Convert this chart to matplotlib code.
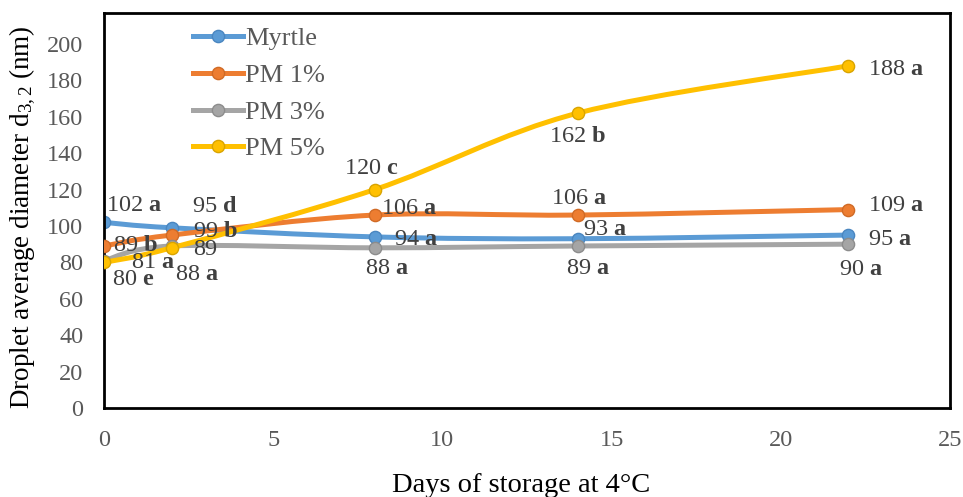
import matplotlib
matplotlib.use("Agg")
import matplotlib.pyplot as plt
from matplotlib.path import Path
from matplotlib.patches import PathPatch
from matplotlib.lines import Line2D
import numpy as np

plt.rcParams['font.family'] = ['Liberation Serif', 'DejaVu Serif']
plt.rcParams['mathtext.fontset'] = 'custom'
plt.rcParams['mathtext.rm'] = 'Liberation Serif'
plt.rcParams['mathtext.it'] = 'Liberation Serif:italic'
plt.rcParams['mathtext.bf'] = 'Liberation Serif:bold'

# ---- data ----
days = [0, 2, 8, 14, 22]
series_names = ["Myrtle", "PM 1%", "PM 3%", "PM 5%"]
myrtle = [102, 99, 94, 93, 95]
pm1 = [89, 95, 106, 106, 109]
pm3 = [81, 89, 88, 89, 90]
pm5 = [80, 88, 120, 162, 188]
myrtle_letters = ["a", "b", "a", "a", "a"]
pm1_letters = ["b", "d", "a", "a", "a"]
pm3_letters = ["a", "", "a", "a", "a"]
pm5_letters = ["e", "a", "c", "b", "a"]
x_ticks = [0, 5, 10, 15, 20, 25]
y_ticks = list(range(0, 201, 20))

values = [myrtle, pm1, pm3, pm5]
letters = [myrtle_letters, pm1_letters, pm3_letters, pm5_letters]

# ---- styles ----
colors = ['#5B9BD5', '#ED7D31', '#A5A5A5', '#FFC000']
edges = ['#4A86C0', '#D06A25', '#8C8C8C', '#D9A400']
# label offsets in pixels (dx to left edge, dy to vertical centre)
offsets = [
    [(2, 17), (21, -4), (19, -3), (5, 9), (20, -4)],        # Myrtle
    [(9, 0), (20, 29), (6, 7), (-27, 17), (20, 4)],         # PM 1%
    [(27, -2), (21, -4), (-10, -21), (-12, -23), (-9, -25)],  # PM 3%
    [(8, -17), (3, -27), (-31, 21), (-29, -23), (20, -4)],  # PM 5%
]
text_color = '#404040'
tick_color = '#595959'
fs = 17.5
fs_leg = 19
fs_title = 20.5
fs_ytitle = 19.5

W, H = 963, 497
fig = plt.figure(figsize=(W / 100, H / 100), dpi=100)
ax = fig.add_axes([104 / W, (H - 408) / H, (950 - 104) / W, (408 - 13) / H])
ax.set_xlim(0, 25)
ax.set_ylim(0, 217)


def smooth_path(x, y):
    pts = np.column_stack([x, y]).astype(float)
    n = len(pts)
    verts = [pts[0]]
    codes = [Path.MOVETO]
    for i in range(n - 1):
        p0 = pts[i - 1] if i > 0 else pts[i]
        p1 = pts[i]
        p2 = pts[i + 1]
        p3 = pts[i + 2] if i + 2 < n else pts[i + 1]
        c1 = p1 + (p2 - p0) / 6.0
        c2 = p2 - (p3 - p1) / 6.0
        verts += [c1, c2, p2]
        codes += [Path.CURVE4] * 3
    return Path(verts, codes)


for k, (vals, c, ec) in enumerate(zip(values, colors, edges)):
    patch = PathPatch(smooth_path(days, vals), fill=False, edgecolor=c,
                      lw=3.6, capstyle='round', joinstyle='round', zorder=2 + k)
    ax.add_patch(patch)
    ax.plot(days, vals, linestyle='none', marker='o', ms=8.8, mfc=c, mec=ec,
            mew=1.0, zorder=2 + k)

for k in range(4):
    for i, d in enumerate(days):
        v = values[k][i]
        lt = letters[k][i]
        s = f"{v} $\\mathbf{{{lt}}}$" if lt else f"{v}"
        dx, dy = offsets[k][i]
        ax.annotate(s, xy=(d, v), xytext=(dx, dy), textcoords='offset pixels',
                    ha='left', va='center', fontsize=fs, color=text_color,
                    zorder=10, annotation_clip=False)

ax.set_xticks(x_ticks)
ax.set_yticks(y_ticks)
ax.tick_params(axis='both', length=0, labelsize=fs, labelcolor=tick_color)
ax.tick_params(axis='x', pad=16)
ax.tick_params(axis='y', pad=15)
for sp in ax.spines.values():
    sp.set_linewidth(2.0)
    sp.set_color('black')

fig.text(521 / W, 1 - 485 / H, "Days of storage at 4°C", ha='center', va='center',
         fontsize=fs_title, color='black')
fig.text(23 / W, 1 - 217 / H, r"Droplet average diameter d$_{3,2}$ (nm)",
         ha='center', va='center', rotation=90, fontsize=fs_ytitle, color='black')

handles = [Line2D([], [], color=c, lw=3.6, marker='o', ms=8.8, mfc=c, mec=ec)
           for c, ec in zip(colors, edges)]
leg = ax.legend(handles, series_names, loc='upper left',
                bbox_to_anchor=(193 / W, 1 - 27 / H), bbox_transform=fig.transFigure,
                frameon=False, fontsize=fs_leg, handlelength=1.9, handletextpad=0.08,
                labelspacing=0.5, borderpad=0, borderaxespad=0)
for t in leg.get_texts():
    t.set_color(tick_color)

fig.savefig("out.png", dpi=100)
